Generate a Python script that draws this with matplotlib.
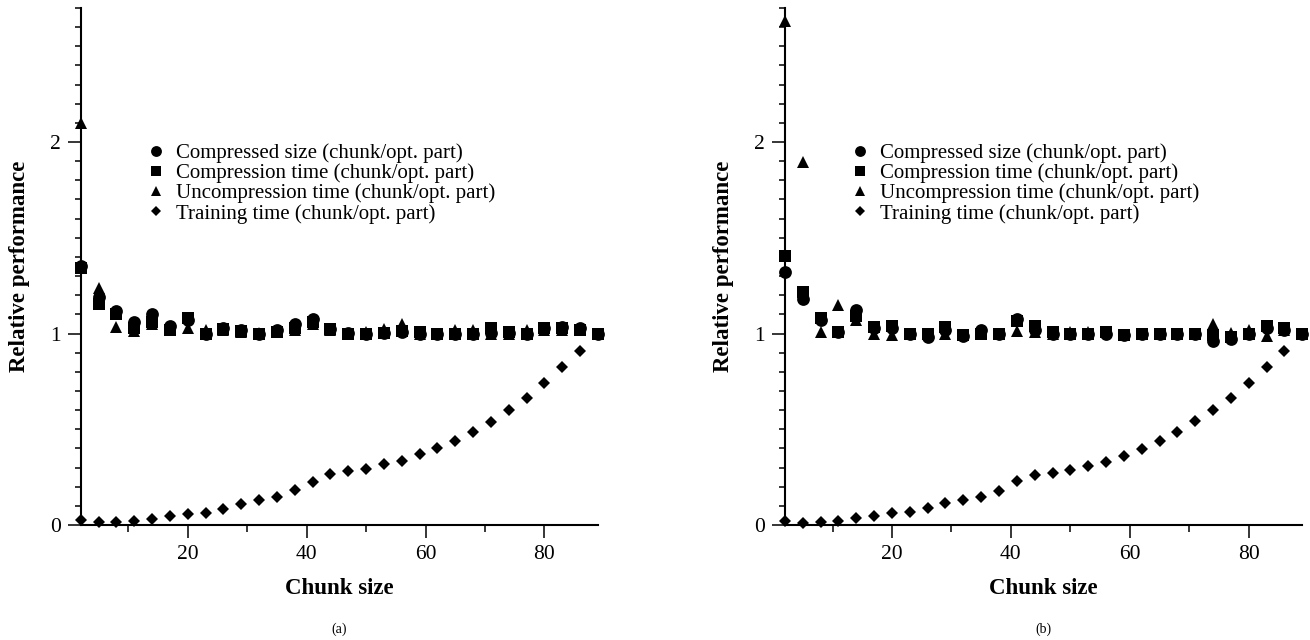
"""
Relative performance of chunked vs. optimal partition, two data sets (a) and (b).
"""

import matplotlib
matplotlib.use("Agg")
import matplotlib.pyplot as plt
from matplotlib.ticker import MultipleLocator

plt.rcParams["font.family"] = ["Liberation Serif", "DejaVu Serif"]

# Chunk sizes (shared by both panels)
chunk_size = list(range(2, 90, 3))

# Panel (a)
size_a = [1.35, 1.19, 1.12, 1.06, 1.10, 1.04, 1.07, 1.00, 1.03, 1.02,
          1.00, 1.02, 1.05, 1.075, 1.026, 1.005, 1.00, 1.005, 1.01, 0.995,
          0.995, 1.00, 1.00, 1.005, 1.005, 1.00, 1.03, 1.035, 1.03, 1.00]
comp_a = [1.34, 1.155, 1.10, 1.03, 1.06, 1.02, 1.08, 1.00, 1.025, 1.015,
          1.00, 1.01, 1.03, 1.06, 1.026, 1.00, 1.00, 1.005, 1.015, 1.01,
          0.996, 1.00, 1.00, 1.03, 1.01, 1.00, 1.03, 1.03, 1.02, 1.00]
uncomp_a = [2.10, 1.24, 1.035, 1.015, 1.05, 1.02, 1.03, 1.02, 1.02, 1.01,
            1.005, 1.01, 1.02, 1.05, 1.02, 1.00, 1.01, 1.026, 1.052, 1.00,
            1.00, 1.02, 1.02, 1.00, 1.00, 1.02, 1.02, 1.02, 1.02, 1.00]
train_a = [0.026, 0.014, 0.017, 0.023, 0.033, 0.045, 0.059, 0.065, 0.084, 0.112,
           0.128, 0.147, 0.182, 0.227, 0.267, 0.280, 0.294, 0.318, 0.336, 0.371,
           0.402, 0.440, 0.484, 0.537, 0.598, 0.664, 0.743, 0.825, 0.909, 1.00]

# Panel (b)
size_b = [1.32, 1.18, 1.07, 1.01, 1.124, 1.03, 1.03, 0.995, 0.984, 1.02,
          0.985, 1.02, 1.00, 1.075, 1.02, 1.00, 1.00, 1.00, 1.00, 0.99,
          1.00, 1.00, 1.00, 0.995, 0.961, 0.97, 1.00, 1.03, 1.02, 1.00]
comp_b = [1.407, 1.215, 1.08, 1.008, 1.092, 1.035, 1.037, 0.995, 0.996, 1.035,
          0.99, 1.00, 1.00, 1.065, 1.04, 1.01, 1.00, 1.00, 1.01, 0.99,
          1.00, 1.00, 1.00, 0.995, 0.99, 0.98, 1.00, 1.037, 1.03, 1.00]
uncomp_b = [2.63, 1.897, 1.008, 1.148, 1.07, 0.996, 0.99, 0.995, 0.995, 0.995,
            0.99, 1.00, 1.00, 1.015, 1.01, 1.00, 1.01, 1.01, 1.01, 0.99,
            1.00, 1.00, 1.00, 0.995, 1.048, 1.005, 1.02, 0.985, 1.02, 1.00]
train_b = [0.023, 0.012, 0.014, 0.023, 0.035, 0.047, 0.061, 0.070, 0.087, 0.114,
           0.131, 0.148, 0.180, 0.228, 0.262, 0.274, 0.287, 0.309, 0.331, 0.362,
           0.398, 0.441, 0.486, 0.542, 0.598, 0.664, 0.743, 0.825, 0.909, 1.00]

labels = [
    "Compressed size (chunk/opt. part)",
    "Compression time (chunk/opt. part)",
    "Uncompression time (chunk/opt. part)",
    "Training time (chunk/opt. part)",
]
markers = [("o", 9.2), ("s", 8.8), ("^", 8.8), ("D", 6.2)]
x_ticks = [20, 40, 60, 80]
y_ticks = [0, 1, 2]
panel_names = ["(a)", "(b)"]


def draw_panel(ax, series, name):
    for values, (m, ms), label in zip(series, markers, labels):
        ax.plot(chunk_size, values, linestyle="none", marker=m, markersize=ms,
                color="black", markeredgewidth=0, label=label, clip_on=False,
                zorder=3)

    ax.set_xlim(2, 89)
    ax.set_ylim(0, 2.7)
    ax.set_xticks(x_ticks)
    ax.set_yticks(y_ticks)
    ax.xaxis.set_minor_locator(MultipleLocator(10))
    ax.yaxis.set_minor_locator(MultipleLocator(0.1))

    for side in ["top", "right"]:
        ax.spines[side].set_visible(False)
    for side in ["left", "bottom"]:
        ax.spines[side].set_linewidth(1.5)

    ax.tick_params(which="major", direction="out", length=9.5, width=1.1,
                   labelsize=15.5, pad=5)
    ax.tick_params(which="minor", direction="out", length=4.5, width=1.1)
    ax.tick_params(axis="x", which="minor", length=5)

    ax.set_xlabel("Chunk size", fontsize=16.5, fontweight="bold")
    ax.set_ylabel("Relative performance", fontsize=16.5, fontweight="bold")
    ax.xaxis.set_label_coords(0.5, -0.103)
    ax.yaxis.set_label_coords(-0.098, 0.5)

    ax.legend(loc="upper left", bbox_to_anchor=(0.127, 0.738), frameon=False,
              fontsize=15, handlelength=0.9, handletextpad=0.5,
              labelspacing=0.02, borderpad=0, borderaxespad=0,
              markerscale=0.85)

    ax.text(0.5, -0.201, name, transform=ax.transAxes, ha="center",
            va="center", fontsize=10)


fig = plt.figure(figsize=(13.1, 6.4), dpi=100)
ax_a = fig.add_axes([0.0616, 0.1797, 0.3949, 0.8078])
ax_b = fig.add_axes([0.5992, 0.1797, 0.3949, 0.8078])

draw_panel(ax_a, [size_a, comp_a, uncomp_a, train_a], panel_names[0])
draw_panel(ax_b, [size_b, comp_b, uncomp_b, train_b], panel_names[1])

fig.savefig("out.png", dpi=100)
print("[INFO] Saved: out.png")
